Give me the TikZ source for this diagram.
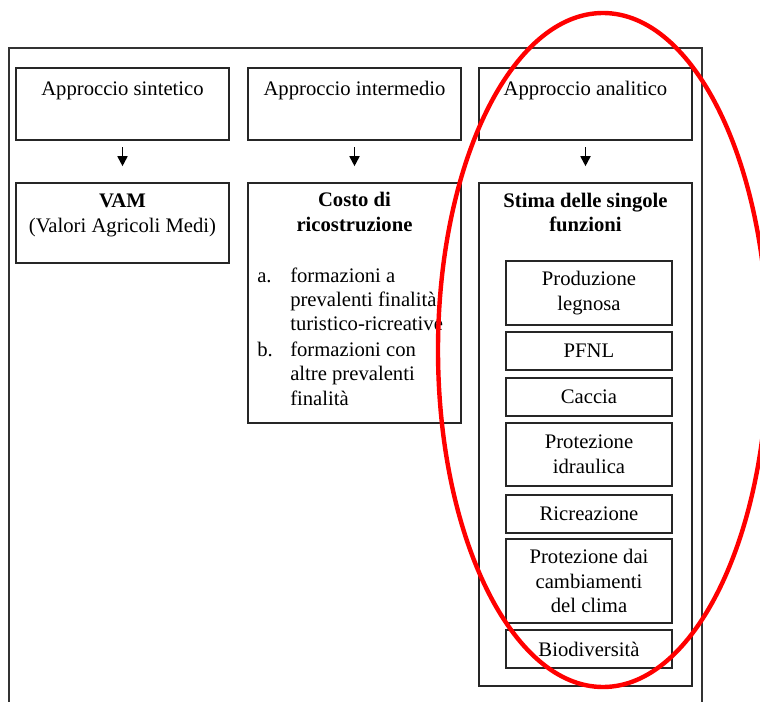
\documentclass[tikz,border=0pt]{standalone}
\usepackage{fontspec}
\setmainfont{Liberation Serif}
\usetikzlibrary{arrows.meta,fit}
\newcommand\txtsize{\fontsize{15.5}{18.4}\selectfont}
\begin{document}
\begin{tikzpicture}[x=0.75pt,y=-0.75pt,
  box/.style={draw=black!85,line width=1.2pt,inner sep=0pt},
  txt/.style={font=\txtsize,inner sep=0pt,anchor=base},
  btxt/.style={font=\txtsize\bfseries,inner sep=0pt,anchor=base},
  ltxt/.style={font=\txtsize,inner sep=0pt,anchor=base west},
  itxt/.style={font=\txtsize,align=center,inner sep=0pt,anchor=center},
  arr/.style={-{Triangle[length=7.5pt,width=7.5pt]},line width=1.3pt,shorten <=5pt,shorten >=12pt}]
\useasboundingbox (0,0) rectangle (760,702);
\fill[white] (0,0) rectangle (760,702);
\draw[black!80,line width=1pt] (9,702) -- (9,48) -- (702,48) -- (702,702);

% top boxes
\node[box,fit={(16,68)(229,140)}] (as) {};
\node[box,fit={(248,68)(461,140)}] (ai) {};
\node[box,fit={(479,68)(692,140)}] (aa) {};
\node[txt] (ast) at (122.5,96) {Approccio sintetico};
\node[txt] (ait) at (354.5,96) {Approccio intermedio};
\node[txt] (aat) at (585.5,96) {Approccio analitico};

% second row boxes
\node[box,fit={(16,183)(229,263)}] (vam) {};
\node[box,fit={(248,183)(461,423)}] (cr) {};
\node[box,fit={(479,183)(692,686)}] (sf) {};

\node[btxt] (vam1) at (122.5,208) {VAM};
\node[txt] (vam2) at (122.5,233) {(Valori Agricoli Medi)};

\node[btxt] (cr1) at (354.5,207) {Costo di};
\node[btxt] (cr2) at (354.5,232) {ricostruzione};
\node[ltxt] (la) at (257,282) {a.};
\node[ltxt] (la1) at (290,282) {formazioni a};
\node[ltxt] (la2) at (290,306) {prevalenti finalità};
\node[ltxt] (la3) at (290,330) {turistico-ricreative};
\node[ltxt] (lb) at (257,356) {b.};
\node[ltxt] (lb1) at (290,356) {formazioni con};
\node[ltxt] (lb2) at (290,380) {altre prevalenti};
\node[ltxt] (lb3) at (290,405) {finalità};

\node[btxt] (sf1) at (585.5,208) {Stima delle singole};
\node[btxt] (sf2) at (585.5,232) {funzioni};

% inner boxes
\node[box,fit={(506,261)(672,325)}] (f1) {};
\node[box,fit={(506,332)(672,370)}] (f2) {};
\node[box,fit={(506,378)(672,416)}] (f3) {};
\node[box,fit={(506,423)(672,486)}] (f4) {};
\node[box,fit={(506,495)(672,533)}] (f5) {};
\node[box,fit={(506,539)(672,623)}] (f6) {};
\node[box,fit={(506,630)(672,668)}] (f7) {};
\node[itxt] (t1) at (f1.center) {Produzione\\legnosa};
\node[itxt] (t2) at (f2.center) {PFNL};
\node[itxt] (t3) at (f3.center) {Caccia};
\node[itxt] (t4) at (f4.center) {Protezione\\idraulica};
\node[itxt] (t5) at (f5.center) {Ricreazione};
\node[itxt] (t6) at (f6.center) {Protezione dai\\cambiamenti\\del clima};
\node[itxt] (t7) at (f7.center) {Biodiversità};

% arrows
\draw[arr] (as.south) -- (vam.north);
\draw[arr] (ai.south) -- (cr.north);
\draw[arr] (aa.south) -- (sf.north);

% red ellipse
\draw[red,line width=3.3pt] (603,350) ellipse [x radius=123.75pt, y radius=252.75pt];
\end{tikzpicture}
\end{document}
